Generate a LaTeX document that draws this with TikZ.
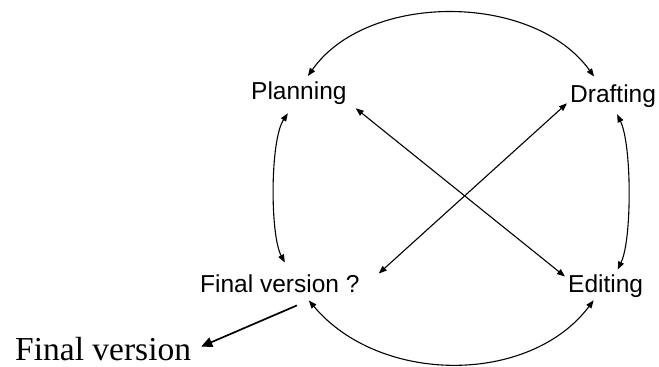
\documentclass[tikz,border=0pt]{standalone}
\usepackage{fontspec}
\setmainfont{Liberation Sans}
\newfontfamily\serifvf{Liberation Serif}
\usetikzlibrary{arrows.meta}
\begin{document}
\begin{tikzpicture}[x=1pt,y=-1pt,
  lbl/.style={inner sep=0pt,anchor=base west,font=\fontsize{24.5}{28}\selectfont},
  link/.style={line width=1.1pt,{Triangle[length=8pt,width=6pt]}-{Triangle[length=8pt,width=6pt]}},
  outarrow/.style={line width=1.7pt,-{Triangle[length=11pt,width=10pt]}}]
\useasboundingbox (0,0) rectangle (659,367);
\node[lbl] (P) at (251,99) {Planning};
\node[lbl] (D) at (570,102) {Drafting};
\node[lbl] (E) at (568,292) {Editing};
\node[lbl] (F) at (200,292) {Final version ?};
\node[inner sep=0pt,anchor=base west,font=\serifvf\fontsize{33.5}{40}\selectfont] (V) at (15,360) {Final version};
% top arc
\draw[link] ([shift={(9,-5)}]P.north) .. controls (367,-8) and (533,-8) .. ([shift={(-19,-7.5)}]D.north);
% left arc
\draw[link] ([shift={(-11,9)}]P.south) .. controls (270,140) and (270,235) .. ([shift={(5,-11.5)}]F.north);
% right arc
\draw[link] ([shift={(4,7)}]D.south) .. controls (632,145) and (632,240) .. ([shift={(12,-4.5)}]E.north);
% bottom arc
\draw[link] ([shift={(29,8)}]F.south) .. controls (380,385) and (530,385) .. ([shift={(-12,3)}]E.south);
% diagonals
\draw[link] ([shift={(9,4)}]P.south east) -- ([shift={(-3,2.5)}]E.north west);
\draw[link] ([shift={(-3,-4)}]D.south west) -- ([shift={(19,-0.5)}]F.north east);
% out arrow
\draw[outarrow] ([shift={(17,13)}]F.south) -- ([shift={(10,-2)}]V.east);
\end{tikzpicture}
\end{document}
